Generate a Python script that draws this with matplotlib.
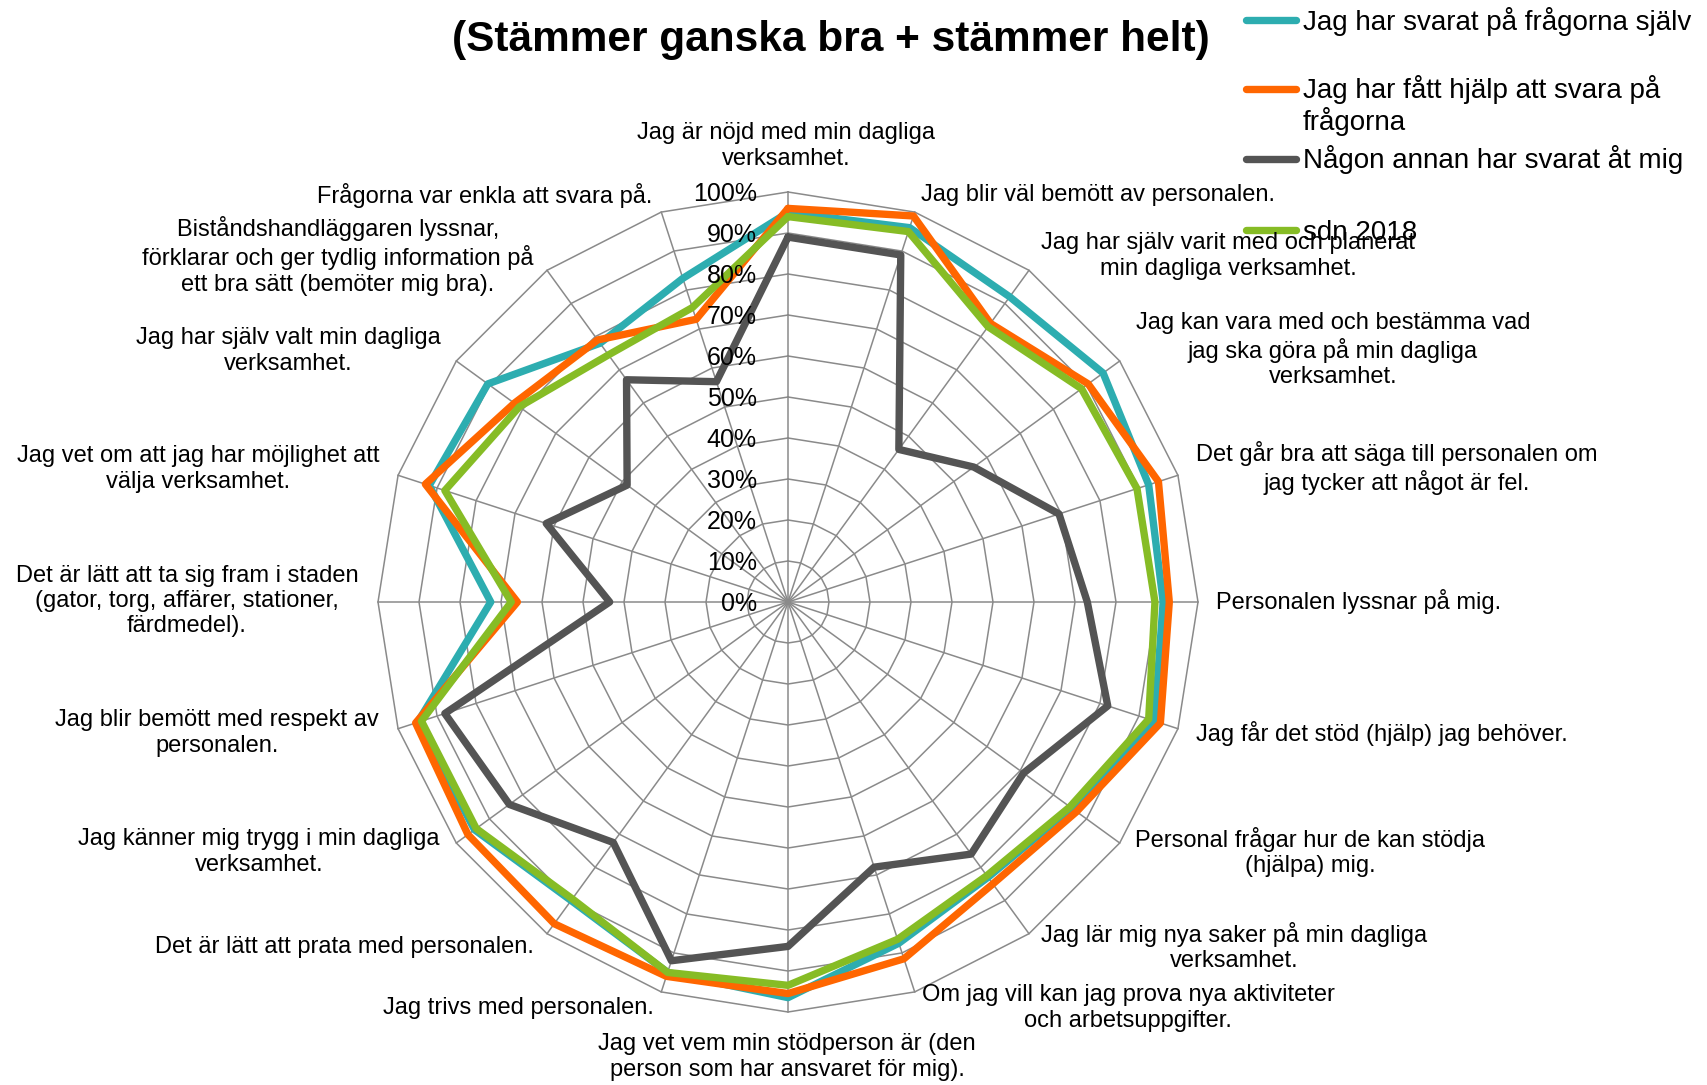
import numpy as np
import matplotlib
matplotlib.use('Agg')
import matplotlib.pyplot as plt
from matplotlib.lines import Line2D
import matplotlib.transforms as mtransforms

plt.rcParams['font.family'] = ['Liberation Sans', 'DejaVu Sans']

# ---------------- data ----------------
categories = [
    "Jag är nöjd med min dagliga\nverksamhet.",
    "Jag blir väl bemött av personalen.",
    "Jag har själv varit med och planerat\nmin dagliga verksamhet.",
    "Jag kan vara med och bestämma vad\njag ska göra på min dagliga\nverksamhet.",
    "Det går bra att säga till personalen om\njag tycker att något är fel.",
    "Personalen lyssnar på mig.",
    "Jag får det stöd (hjälp) jag behöver.",
    "Personal frågar hur de kan stödja\n(hjälpa) mig.",
    "Jag lär mig nya saker på min dagliga\nverksamhet.",
    "Om jag vill kan jag prova nya aktiviteter\noch arbetsuppgifter.",
    "Jag vet vem min stödperson är (den\nperson som har ansvaret för mig).",
    "Jag trivs med personalen.",
    "Det är lätt att prata med personalen.",
    "Jag känner mig trygg i min dagliga\nverksamhet.",
    "Jag blir bemött med respekt av\npersonalen.",
    "Det är lätt att ta sig fram i staden\n(gator, torg, affärer, stationer,\nfärdmedel).",
    "Jag vet om att jag har möjlighet att\nvälja verksamhet.",
    "Jag har själv valt min dagliga\nverksamhet.",
    "Biståndshandläggaren lyssnar,\nförklarar och ger tydlig information på\nett bra sätt (bemöter mig bra).",
    "Frågorna var enkla att svara på.",
]

series_names = [
    "Jag har svarat på frågorna själv",
    "Jag har fått hjälp att svara på\nfrågorna",
    "Någon annan har svarat åt mig",
    "sdn 2018",
]

sjalv = [95, 96, 92, 95, 92.5, 91.5, 94, 85.5, 83, 87.5,
         96.5, 95, 90, 94.5, 95, 72.5, 92, 90.5, 78, 83]
hjalp = [96, 99, 84, 90.5, 95, 93, 95.5, 87, 85, 91.5,
         95.5, 96, 97, 96.5, 95.5, 66, 93, 82.5, 79, 72.5]
annan = [89, 89, 46, 56, 69.5, 73, 82, 71, 76, 68,
         84, 92, 72.5, 84, 88, 43.5, 62, 48.5, 67, 56.5]
sdn2018 = [94, 95, 83, 88.5, 89.5, 89.5, 92.5, 85, 82.5, 86.5,
           93.5, 95, 89.5, 94, 94, 67.5, 88, 81, 74.5, 75.5]

tick_values = [0, 10, 20, 30, 40, 50, 60, 70, 80, 90, 100]
tick_labels = [f"{v}%" for v in tick_values]

title_line = "(Stämmer ganska bra + stämmer helt)"

# ---------------- styling ----------------
colors = ['#2DADB0', '#FF6600', '#545454', '#86BC25']
W, H = 1708, 1085
cx, cy, R = 788, 602, 410          # chart centre / radius in pixels

# label centres (pixels, top-left origin)
label_xy = [(786, 146), (1098, 195), (1228, 256), (1333, 350), (1397, 468),
            (1359, 601), (1382, 733), (1310, 852), (1234, 947), (1128, 1008),
            (787, 1057), (518, 1008), (344, 947), (259, 852), (217, 733),
            (187, 601), (198, 469), (288, 351), (338, 256), (485, 195)]

fig = plt.figure(figsize=(W / 100, H / 100), dpi=100)
fig.patch.set_facecolor('white')

ax = fig.add_axes([(cx - R) / W, (H - cy - R) / H, 2 * R / W, 2 * R / H],
                  projection='polar')
ax.set_theta_zero_location('N')
ax.set_theta_direction(-1)
ax.set_ylim(0, 100)
ax.grid(False)
ax.set_xticks([])
ax.set_yticks([])
ax.spines['polar'].set_visible(False)
ax.patch.set_alpha(0)

n = len(categories)
theta = np.arange(n) * 2 * np.pi / n
theta_c = np.r_[theta, theta[0]]

grid_col = '#8a8a8a'
for lv in tick_values[1:]:
    ax.plot(theta_c, [lv] * (n + 1), color=grid_col, lw=1.1, zorder=1,
            clip_on=False)
for t in theta:
    ax.plot([t, t], [0, 100], color=grid_col, lw=1.1, zorder=1, clip_on=False)

for vals, col in zip([sjalv, hjalp, annan, sdn2018], colors):
    v = np.asarray(vals, dtype=float)
    ax.plot(theta_c, np.r_[v, v[0]], color=col, lw=5.3,
            solid_joinstyle='round', solid_capstyle='round',
            zorder=3, clip_on=False)

# radial tick labels along the top spoke
tr = mtransforms.offset_copy(ax.transData, fig=fig, x=-31, y=-9, units='dots')
for v, lab in zip(tick_values, tick_labels):
    ax.text(0, v, lab, transform=tr, ha='right', va='baseline',
            fontsize=18, color='black', zorder=5)

# category labels
for (px, py), lab in zip(label_xy, categories):
    fig.text(px / W, 1 - py / H, lab, ha='center', va='center',
             fontsize=17, linespacing=1.2, color='black')

# title (second line; first line is cut off in the original)
fig.text(831 / W, 1 - 51 / H, title_line, ha='center', va='baseline',
         fontsize=30.5, fontweight='bold', color='black')

# legend (manual, Excel-like layout)
leg_y = [20, 89, 159, 230]
for name, col, y in zip(series_names, colors, leg_y):
    fig.add_artist(Line2D([1246 / W, 1296 / W], [1 - y / H] * 2,
                          transform=fig.transFigure, color=col, lw=5.3,
                          solid_capstyle='round'))
    lines = name.split('\n')
    for k, ln in enumerate(lines):
        fig.text(1303 / W, 1 - (y + 9.5 + k * 31.6) / H, ln, ha='left',
                 va='baseline', fontsize=20, color='black')

fig.savefig('out.png', dpi=100, facecolor='white')
